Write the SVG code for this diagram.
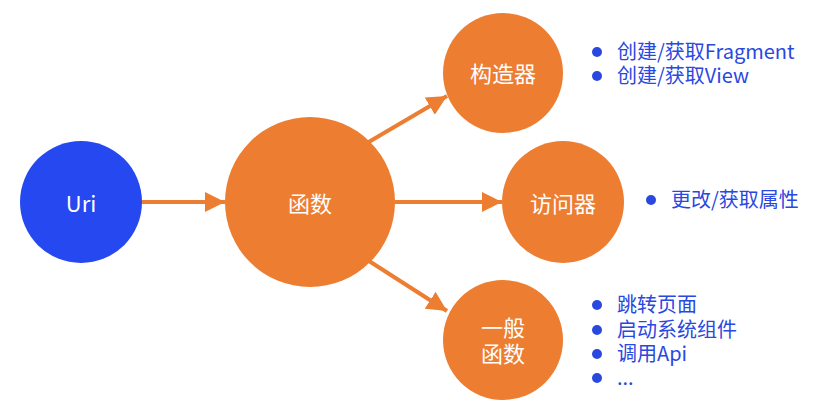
<svg xmlns="http://www.w3.org/2000/svg" width="821" height="410" viewBox="0 0 821 410">
<style>
.o{fill:#ED7D31}
.b{fill:#2548F0}
.lbl{font-family:"Noto Sans CJK SC","Liberation Sans",sans-serif;font-size:22px;fill:#fff;text-anchor:middle;dominant-baseline:central}
.li{font-family:"Noto Sans CJK SC","Liberation Sans",sans-serif;font-size:20px;fill:#2A48E0}
.dot{fill:#2A48E0}
.c{stroke:#ED7D31;stroke-width:4;fill:none;marker-end:url(#ah)}
</style>
<defs>
<marker id="ah" markerUnits="userSpaceOnUse" markerWidth="22" markerHeight="20" viewBox="0 0 22 20" refX="20" refY="10" orient="auto">
<path d="M0,0 L20,10 L0,20 Z" fill="#ED7D31"/>
</marker>
</defs>
<rect width="821" height="410" fill="#fff"/>
<g id="connectors">
<line class="c" x1="142" y1="202" x2="225" y2="202"/>
<line class="c" x1="395" y1="202" x2="502" y2="202"/>
<line class="c" x1="367" y1="143" x2="447" y2="96"/>
<line class="c" x1="369" y1="261" x2="447" y2="311"/>
</g>
<g id="uri"><circle class="b" cx="81" cy="202" r="61"/><text class="lbl" x="81" y="202">Uri</text></g>
<g id="func"><circle class="o" cx="310" cy="202" r="85"/><text class="lbl" x="310" y="202">函数</text></g>
<g id="ctor"><circle class="o" cx="503" cy="73" r="60"/><text class="lbl" x="503" y="72">构造器</text></g>
<g id="accessor"><circle class="o" cx="563" cy="202" r="61"/><text class="lbl" x="563" y="202">访问器</text></g>
<g id="general"><circle class="o" cx="503" cy="340" r="60"/><text class="lbl" x="503" y="326">一般</text><text class="lbl" x="503" y="352">函数</text></g>
<g id="list-ctor">
<circle class="dot" cx="597" cy="52" r="5"/><text class="li" x="617" y="59">创建/获取Fragment</text>
<circle class="dot" cx="597" cy="76" r="5"/><text class="li" x="617" y="83">创建/获取View</text>
</g>
<g id="list-accessor">
<circle class="dot" cx="651" cy="200" r="5"/><text class="li" x="671" y="207">更改/获取属性</text>
</g>
<g id="list-general">
<circle class="dot" cx="597" cy="305" r="5"/><text class="li" x="617" y="312">跳转页面</text>
<circle class="dot" cx="597" cy="330" r="5"/><text class="li" x="617" y="337">启动系统组件</text>
<circle class="dot" cx="597" cy="354" r="5"/><text class="li" x="617" y="361">调用Api</text>
<circle class="dot" cx="597" cy="378" r="5"/><text class="li" x="617" y="385">...</text>
</g>
</svg>
